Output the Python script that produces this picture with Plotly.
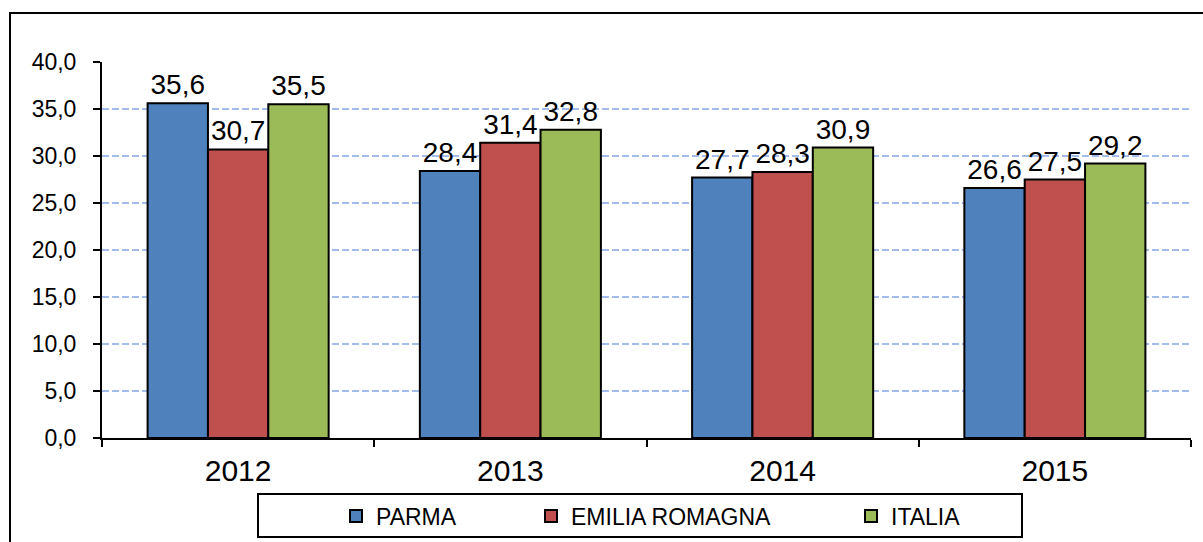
import plotly.graph_objects as go

years = ["2012", "2013", "2014", "2015"]
parma = [35.6, 28.4, 27.7, 26.6]
emilia = [30.7, 31.4, 28.3, 27.5]
italia = [35.5, 32.8, 30.9, 29.2]
series_names = ["PARMA", "EMILIA ROMAGNA", "ITALIA"]
colors = ["#4F81BD", "#C0504D", "#9BBB59"]
y_ticks = [0, 5, 10, 15, 20, 25, 30, 35, 40]

W, H = 1203, 542
L, R, T, B = 102, 12, 62, 104
pw, ph = W - L - R, H - T - B

def px_x(p):
    return (p - L) / pw

def px_y(p):
    return (H - B - p) / ph

FONT = "Liberation Sans, Arial"

fig = go.Figure()
legend_ids = ["legend", "legend2", "legend3"]
legend_px = [358, 553, 873]
for name, vals, col, lg in zip(series_names, [parma, emilia, italia], colors, legend_ids):
    fig.add_trace(go.Bar(
        x=years, y=vals, name=name,
        marker=dict(color=col, line=dict(color="black", width=2)),
        text=[f"{v:.1f}".replace(".", ",") for v in vals],
        textposition="outside", constraintext="none", cliponaxis=False,
        textfont=dict(family=FONT, size=28, color="black"),
        legend=lg,
    ))

leg_common = dict(orientation="h", bgcolor="rgba(0,0,0,0)", borderwidth=0,
                  font=dict(family=FONT, size=23, color="black"),
                  xanchor="left", yanchor="middle", itemclick=False)
legs = {}
for lg, cx in zip(legend_ids, legend_px):
    legs[lg] = dict(leg_common, x=px_x(cx - 22), y=px_y(516))

fig.update_layout(
    width=W, height=H,
    margin=dict(l=L, r=R, t=T, b=B, pad=0, autoexpand=False),
    paper_bgcolor="white", plot_bgcolor="white",
    barmode="group", bargap=0.335, bargroupgap=0,
    showlegend=True,
    font=dict(family=FONT, color="black"),
    **legs,
    shapes=[
        dict(type="rect", xref="paper", yref="paper",
             x0=px_x(10), x1=px_x(1220), y0=px_y(570), y1=px_y(13),
             line=dict(color="black", width=2), fillcolor="rgba(0,0,0,0)", layer="below"),
        dict(type="rect", xref="paper", yref="paper",
             x0=px_x(258), x1=px_x(1022), y0=px_y(537), y1=px_y(494),
             line=dict(color="black", width=2), fillcolor="rgba(0,0,0,0)"),
    ],
)

fig.update_yaxes(
    range=[0, 40], tickvals=y_ticks,
    ticktext=[f"{v:.1f}".replace(".", ",") for v in y_ticks],
    showline=True, linecolor="black", linewidth=2,
    ticks="outside", ticklen=7, tickwidth=2, tickcolor="black",
    ticklabelstandoff=12,
    showgrid=True, gridcolor="#A4BCEC", gridwidth=1.5, griddash="7px,3px",
    zeroline=False, automargin=False,
    tickfont=dict(family=FONT, size=23, color="black"),
)
fig.update_xaxes(
    showline=True, linecolor="black", linewidth=2,
    ticks="outside", tickson="boundaries", ticklen=7, tickwidth=2, tickcolor="black",
    ticklabelstandoff=5,
    showgrid=False, automargin=False,
    tickfont=dict(family=FONT, size=30, color="black"),
)

fig.write_html("out.html", config={"displayModeBar": False},
               post_script="document.body.style.margin='0';document.body.style.padding='0';")
